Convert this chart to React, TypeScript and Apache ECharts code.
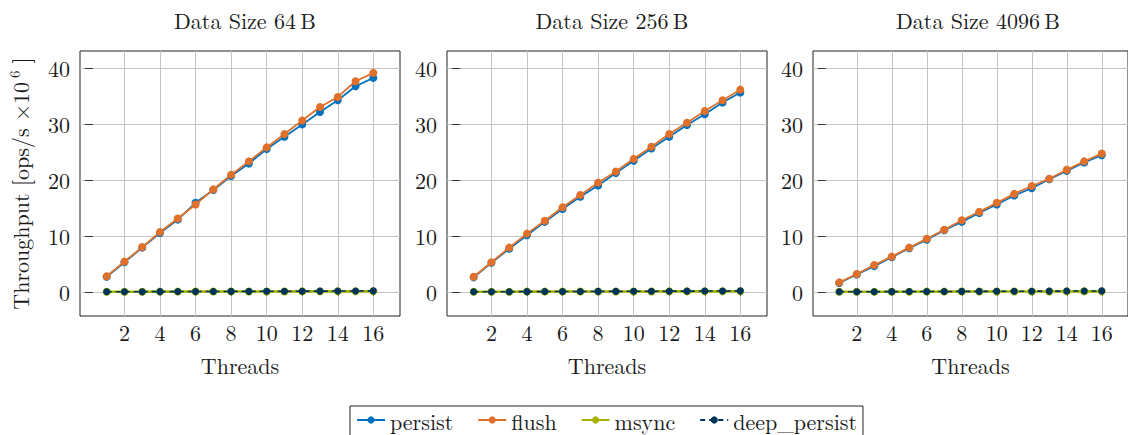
import React, { useEffect, useRef } from "react";
import * as echarts from "echarts";

const threads = [1, 2, 3, 4, 5, 6, 7, 8, 9, 10, 11, 12, 13, 14, 15, 16];
const panelTitles = ["Data Size 64\u2009B", "Data Size 256\u2009B", "Data Size 4096\u2009B"];
const seriesNames = ["persist", "flush", "msync", "deep_persist"];
const xTicks = [2, 4, 6, 8, 10, 12, 14, 16];
const yTicks = [0, 10, 20, 30, 40];

const persist64 = [2.7, 5.3, 7.9, 10.5, 12.9, 15.9, 18.2, 20.7, 22.9, 25.5, 27.7, 29.9, 32.1, 34.2, 36.7, 38.2];
const flush64 = [2.8, 5.4, 8.0, 10.7, 13.1, 15.6, 18.3, 20.9, 23.3, 25.8, 28.2, 30.6, 33.0, 34.8, 37.6, 39.1];
const msync64 = [0.03, 0.04, 0.04, 0.05, 0.05, 0.06, 0.06, 0.07, 0.07, 0.08, 0.08, 0.09, 0.09, 0.1, 0.1, 0.11];
const deep64 = [0.02, 0.03, 0.04, 0.05, 0.06, 0.07, 0.08, 0.09, 0.1, 0.11, 0.12, 0.13, 0.14, 0.16, 0.17, 0.19];

const persist256 = [2.6, 5.2, 7.7, 10.1, 12.5, 14.8, 17.0, 19.0, 21.2, 23.4, 25.6, 27.7, 29.8, 31.7, 33.8, 35.6];
const flush256 = [2.7, 5.3, 7.9, 10.4, 12.7, 15.1, 17.3, 19.5, 21.5, 23.75, 25.9, 28.2, 30.2, 32.3, 34.2, 36.1];
const msync256 = [0.03, 0.04, 0.04, 0.05, 0.05, 0.06, 0.06, 0.07, 0.07, 0.08, 0.08, 0.09, 0.09, 0.1, 0.1, 0.11];
const deep256 = [0.02, 0.03, 0.04, 0.05, 0.06, 0.07, 0.08, 0.09, 0.1, 0.11, 0.12, 0.13, 0.14, 0.16, 0.17, 0.19];

const persist4096 = [1.6, 3.1, 4.6, 6.2, 7.8, 9.3, 11.0, 12.5, 14.1, 15.6, 17.2, 18.5, 20.1, 21.6, 23.1, 24.4];
const flush4096 = [1.7, 3.2, 4.8, 6.3, 7.9, 9.5, 11.1, 12.8, 14.3, 15.9, 17.5, 18.9, 20.2, 21.8, 23.3, 24.7];
const msync4096 = [0.02, 0.03, 0.03, 0.04, 0.04, 0.05, 0.05, 0.06, 0.06, 0.07, 0.07, 0.08, 0.08, 0.09, 0.09, 0.1];
const deep4096 = [0.02, 0.03, 0.04, 0.05, 0.06, 0.07, 0.08, 0.09, 0.1, 0.11, 0.12, 0.13, 0.14, 0.15, 0.16, 0.18];

const panels = [
  [persist64, flush64, msync64, deep64],
  [persist256, flush256, msync256, deep256],
  [persist4096, flush4096, msync4096, deep4096],
];

const colors = ["#0071BF", "#E0702A", "#A6B400", "#00345A"];
const FONT = "Latin Modern Roman";
const TEXT = "#1a1a1a";
const FS = 22;

export default function App() {
  const ref = useRef<HTMLDivElement>(null);
  useEffect(() => {
    if (!ref.current) return;
    const chart = echarts.init(ref.current, null, { renderer: "svg" });
    const lefts = [80, 447, 813];
    const grids = lefts.map((l) => ({
      left: l,
      top: 51,
      width: 320,
      height: 265,
      show: true,
      borderColor: "#222",
      borderWidth: 1,
      backgroundColor: "transparent",
    }));
    const xAxes: any[] = [];
    const yAxes: any[] = [];
    lefts.forEach((_, i) => {
      xAxes.push({
        type: "value",
        gridIndex: i,
        min: -0.5,
        max: 17.5,
        axisLine: { show: false },
        axisTick: { show: true, inside: true, length: 4, customValues: xTicks, lineStyle: { color: "#333" } },
        axisLabel: { customValues: xTicks, margin: 4, fontFamily: FONT, fontSize: FS, color: TEXT },
        splitLine: { show: true, lineStyle: { color: "#c4c4c4", width: 1 } },
        name: "Threads",
        nameLocation: "middle",
        nameGap: 37,
        nameTextStyle: { fontFamily: FONT, fontSize: FS, color: TEXT },
      });
      xAxes.push({
        type: "value",
        gridIndex: i,
        position: "top",
        min: -0.5,
        max: 17.5,
        axisLine: { show: false },
        axisTick: { show: true, inside: true, length: 4, customValues: xTicks, lineStyle: { color: "#333" } },
        axisLabel: { show: false },
        splitLine: { show: false },
      });
      yAxes.push({
        type: "value",
        gridIndex: i,
        min: -4.3,
        max: 43,
        axisLine: { show: false },
        axisTick: { show: true, inside: true, length: 4, customValues: yTicks, lineStyle: { color: "#333" } },
        axisLabel: { customValues: yTicks, margin: 10, fontFamily: FONT, fontSize: FS, color: TEXT },
        splitLine: { show: true, lineStyle: { color: "#c4c4c4", width: 1 } },
        ...(i === 0
          ? {
              name: "{a|Throughput [ops/s \u00d710}{s|6}{a|]}",
              nameLocation: "middle",
              nameRotate: 90,
              nameGap: 48,
              nameTextStyle: {
                fontFamily: FONT,
                fontSize: FS,
                color: TEXT,
                rich: {
                  a: { fontFamily: FONT, fontSize: FS, color: TEXT },
                  s: { fontFamily: FONT, fontSize: 15, color: TEXT, padding: [0, 7, 11, 4] },
                },
              },
            }
          : {}),
      });
      yAxes.push({
        type: "value",
        gridIndex: i,
        position: "right",
        min: -4.3,
        max: 43,
        axisLine: { show: false },
        axisTick: { show: true, inside: true, length: 4, customValues: yTicks, lineStyle: { color: "#333" } },
        axisLabel: { show: false },
        splitLine: { show: false },
      });
    });

    const series: any[] = [];
    panels.forEach((vals, p) => {
      vals.forEach((arr, k) => {
        series.push({
          type: "line",
          name: seriesNames[k],
          xAxisIndex: p * 2,
          yAxisIndex: p * 2,
          data: threads.map((t, j) => [t, arr[j]]),
          symbol: "circle",
          symbolSize: k === 3 ? 7 : 8,
          showSymbol: true,
          color: colors[k],
          itemStyle: { color: colors[k] },
          lineStyle: {
            color: colors[k],
            width: k === 2 ? 2.6 : k === 3 ? 1.6 : 1.8,
            type: k === 3 ? [5, 4] : "solid",
          },
          z: 2 + k,
          silent: true,
        });
      });
    });

    chart.setOption({
      animation: false,
      backgroundColor: "#ffffff",
      title: panelTitles.map((t, i) => ({
        text: t,
        left: lefts[i] + 160,
        textAlign: "center",
        top: 3,
        textStyle: { fontFamily: FONT, fontSize: FS, fontWeight: "normal", color: TEXT },
      })),
      legend: {
        data: seriesNames,
        left: 350,
        top: 406,
        orient: "horizontal",
        padding: [3, 6, 8, 6],
        itemWidth: 28,
        itemHeight: 9,
        itemGap: 24,
        borderColor: "#222",
        borderWidth: 1,
        borderRadius: 0,
        textStyle: { fontFamily: FONT, fontSize: FS, color: TEXT },
      },
      grid: grids,
      xAxis: xAxes,
      yAxis: yAxes,
      series,
    });
    return () => chart.dispose();
  }, []);
  return (
    <div
      ref={ref}
      style={{ position: "fixed", left: 0, top: 0, width: 1128, height: 435, background: "#fff" }}
    />
  );
}
